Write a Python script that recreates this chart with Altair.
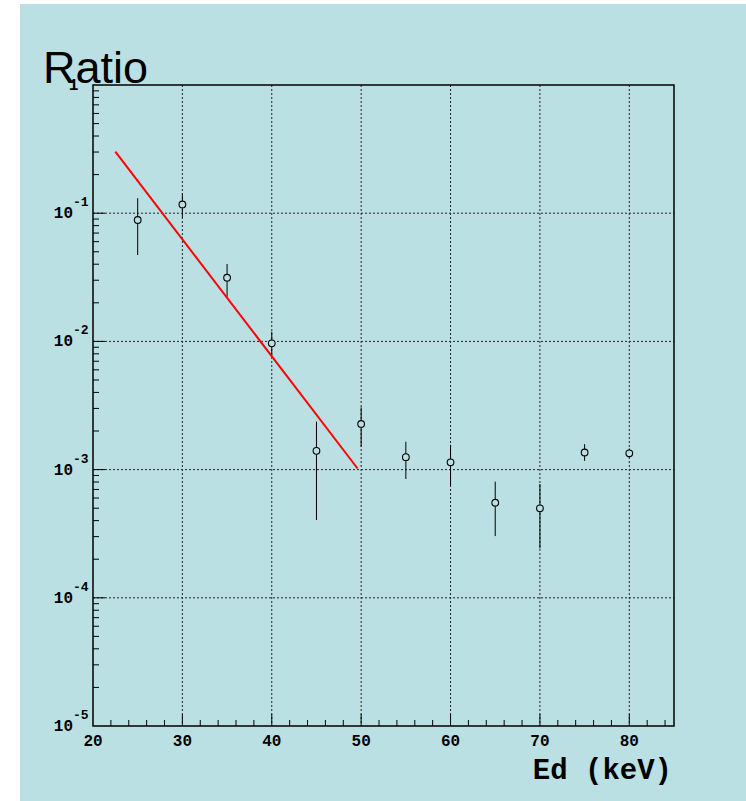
import altair as alt
import pandas as pd

# ---- data ----
energy = [25, 30, 35, 40, 45, 50, 55, 60, 65, 70, 75, 80]
ratio = [0.0885, 0.117, 0.0314, 0.00966, 0.00140, 0.00227, 0.00125, 0.00114,
         0.000552, 0.000499, 0.00136, 0.00134]
err_high = [0.131, 0.143, 0.0402, 0.0119, 0.00237, 0.00306, 0.00165, 0.00156,
            0.000805, 0.000772, 0.00158, 0.00146]
err_low = [0.0472, 0.0912, 0.0223, 0.00783, 0.000404, 0.00151, 0.000845, 0.00075,
           0.000303, 0.000243, 0.00117, 0.00124]

fit_x = [22.5, 49.6]
fit_y = [0.302, 0.00102]

x_major = [30, 40, 50, 60, 70, 80]
x_labels = [20, 30, 40, 50, 60, 70, 80]
x_minor = [22, 24, 26, 28, 32, 34, 36, 38, 42, 44, 46, 48, 52, 54, 56, 58,
           62, 64, 66, 68, 72, 74, 76, 78, 82, 84]
y_major = [1e-1, 1e-2, 1e-3, 1e-4]
y_label_vals = [1e-1, 1e-2, 1e-3, 1e-4, 1e-5]
y_label_exp = ["-1", "-2", "-3", "-4", "-5"]
y_minor = [k * 10.0 ** e for e in [-5, -4, -3, -2, -1] for k in range(2, 10)]

BG = "#bbe0e3"
W, H = 581, 641
MONO = "Liberation Mono"

xs = alt.Scale(domain=[20, 85], nice=False, zero=False)
ys = alt.Scale(type="log", domain=[1e-5, 1], nice=False)

pts = pd.DataFrame({"e": energy, "r": ratio, "hi": err_high, "lo": err_low})
fit = pd.DataFrame({"e": fit_x, "r": fit_y})
one = pd.DataFrame({"a": [0]})

X = lambda f: alt.X(f, type="quantitative", scale=xs, axis=None)
Y = lambda f: alt.Y(f, type="quantitative", scale=ys, axis=None)

bgrect = alt.Chart(one).mark_rect(fill=BG).encode(
    x=alt.value(-73), x2=alt.value(653), y=alt.value(-81), y2=alt.value(716))

gx = alt.Chart(pd.DataFrame({"v": x_major})).mark_rule(
    color="#222", strokeWidth=1, strokeDash=[2, 2]).encode(
    x=X("v"), y=alt.value(0), y2=alt.value(H))
gy = alt.Chart(pd.DataFrame({"v": y_major})).mark_rule(
    color="#222", strokeWidth=1, strokeDash=[2, 2]).encode(
    y=Y("v"), x=alt.value(0), x2=alt.value(W))

tx_major = alt.Chart(pd.DataFrame({"v": x_major})).mark_rule(color="black").encode(
    x=X("v"), y=alt.value(H), y2=alt.value(H - 12))
tx_minor = alt.Chart(pd.DataFrame({"v": x_minor})).mark_rule(color="black").encode(
    x=X("v"), y=alt.value(H), y2=alt.value(H - 6))
ty_major = alt.Chart(pd.DataFrame({"v": y_major})).mark_rule(color="black").encode(
    y=Y("v"), x=alt.value(0), x2=alt.value(12))
ty_minor = alt.Chart(pd.DataFrame({"v": y_minor})).mark_rule(color="black").encode(
    y=Y("v"), x=alt.value(0), x2=alt.value(6))

xlab = alt.Chart(pd.DataFrame({"v": x_labels})).mark_text(
    font=MONO, fontWeight="bold", fontSize=16, baseline="middle", align="center",
    color="black").encode(x=X("v"), y=alt.value(H + 15), text=alt.Text("v:Q", format="d"))

ylab_df = pd.DataFrame({"v": y_label_vals, "ex": y_label_exp})
ylab10 = alt.Chart(ylab_df).mark_text(
    font=MONO, fontWeight="bold", fontSize=16, baseline="middle", align="right",
    color="black").encode(y=Y("v"), x=alt.value(-20), text=alt.value("10"))
ylabexp = alt.Chart(ylab_df).mark_text(
    font=MONO, fontWeight="bold", fontSize=13, baseline="middle", align="left",
    dy=-11, color="black").encode(y=Y("v"), x=alt.value(-20), text="ex:N")
ylab1 = alt.Chart(pd.DataFrame({"v": [1.0]})).mark_text(
    font=MONO, fontWeight="bold", fontSize=16, baseline="middle", align="center",
    color="black").encode(y=Y("v"), x=alt.value(-19.5), text=alt.value("1"))

errbars = alt.Chart(pts).mark_rule(color="black", strokeWidth=1).encode(
    x=X("e"), y=Y("lo"), y2="hi")
circles = alt.Chart(pts).mark_circle(
    fill=BG, stroke="black", strokeWidth=1.1, opacity=1, size=45).encode(
    x=X("e"), y=Y("r"))
fitline = alt.Chart(fit).mark_line(color="#ff0000", strokeWidth=2).encode(
    x=X("e"), y=Y("r"))

frame = alt.Chart(one).mark_rect(fill="transparent", stroke="black", strokeWidth=1.5).encode(
    x=alt.value(0), x2=alt.value(W), y=alt.value(0), y2=alt.value(H))

title = alt.Chart(one).mark_text(
    font="Liberation Sans", fontSize=45, align="left", baseline="alphabetic",
    color="black").encode(x=alt.value(-50), y=alt.value(-2), text=alt.value("Ratio"))
xtitle = alt.Chart(one).mark_text(
    font=MONO, fontWeight="bold", fontSize=29, align="right", baseline="alphabetic",
    color="black").encode(x=alt.value(579), y=alt.value(694), text=alt.value("Ed (keV)"))

chart = alt.layer(
    bgrect, gx, gy, tx_major, tx_minor, ty_major, ty_minor,
    xlab, ylab10, ylabexp, ylab1,
    errbars, fitline, circles, frame, title, xtitle
).properties(
    width=W, height=H,
    padding={"left": 93, "top": 85, "right": 72, "bottom": 75},
    autosize="none", background="white"
).configure_view(stroke=None)

chart.save("out.html", embed_options={"renderer": "svg", "actions": False})
